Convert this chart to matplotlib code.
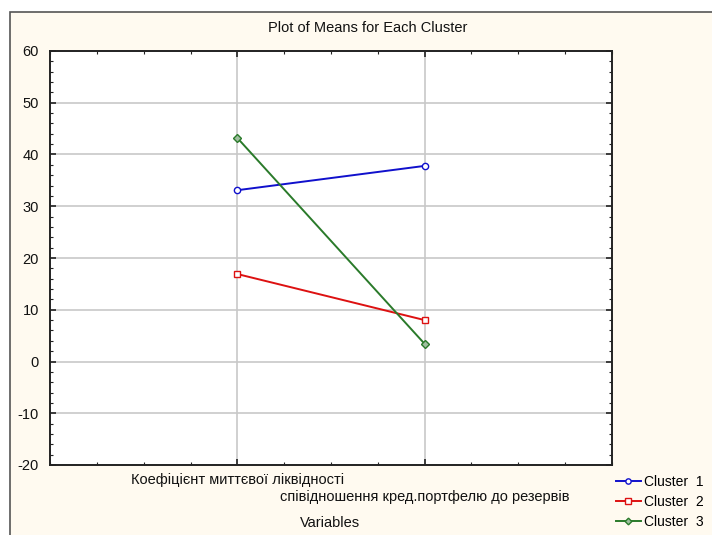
import matplotlib.pyplot as plt
from matplotlib.patches import Rectangle
from matplotlib.ticker import MultipleLocator, FixedLocator

plt.rcParams['font.family'] = ['Liberation Sans', 'DejaVu Sans']
plt.rcParams['axes.unicode_minus'] = False

# data
variables = ['Коефіцієнт миттєвої ліквідності',
             'співідношення кред.портфелю до резервів']
clusters = ['Cluster  1', 'Cluster  2', 'Cluster  3']
cluster1 = [33.1, 37.8]
cluster2 = [16.9, 8.0]
cluster3 = [43.2, 3.4]

colors = ['#1010cc', '#dd1111', '#2a7a2a']
markers = ['o', 's', 'D']
fs = 10.5

fig = plt.figure(figsize=(7.12, 5.35), dpi=100)
fig.patch.set_facecolor('white')

# cream panel with border like the original window
W, H = 712, 535
panel = Rectangle((10 / W, -0.1), 1.2, 1.1 - 12 / H, transform=fig.transFigure,
                  facecolor='#fffaf0', edgecolor='#555555', linewidth=1.2, zorder=-10)
fig.patches.append(panel)

ax = fig.add_axes([50 / W, 1 - 465 / H, 562 / W, 414 / H])
ax.set_facecolor('white')

x = [1, 2]
for vals, c, m, lab in zip([cluster1, cluster2, cluster3], colors, markers, clusters):
    ax.plot(x, vals, color=c, marker=m, markersize=4.5 if m != 'D' else 4,
            markerfacecolor='white' if m != 'D' else '#9fbf9f', markeredgecolor=c,
            markeredgewidth=1, linewidth=1.4, label=lab, zorder=3)

ax.set_xlim(0, 3)
ax.set_ylim(-20, 60)
ax.yaxis.set_major_locator(MultipleLocator(10))
ax.yaxis.set_minor_locator(MultipleLocator(2))
ax.xaxis.set_major_locator(FixedLocator([1, 2]))
ax.xaxis.set_minor_locator(MultipleLocator(0.25))
ax.set_xticklabels([])
ax.grid(True, which='major', color='#c8c8c8', linewidth=1.2, zorder=0)
ax.set_axisbelow(True)

ax.tick_params(which='both', direction='in', top=True, right=True, color='#222222')
ax.tick_params(which='major', length=4, width=1.2, labelsize=fs, pad=8, labelcolor='#111111')
ax.tick_params(which='minor', length=2.5, width=0.8)
for s in ax.spines.values():
    s.set_linewidth(1.4)
    s.set_color('#222222')

# staggered category labels
ax.text(1, -22.9, variables[0], ha='center', va='center', fontsize=fs, color='#111111')
ax.text(2, -26.2, variables[1], ha='center', va='center', fontsize=fs, color='#111111')
fig.text(330 / W, 1 - 523 / H, 'Variables', ha='center', va='center', fontsize=fs, color='#111111')
fig.text(368 / W, 1 - 28 / H, 'Plot of Means for Each Cluster', ha='center', va='center',
         fontsize=fs, color='#111111')

handles, labels = ax.get_legend_handles_labels()
fig.legend(handles, labels, loc='upper left', bbox_to_anchor=(606 / W, 1 - 465 / H),
           frameon=False, fontsize=10, handlelength=1.8, handletextpad=0.25,
           labelspacing=0.45, borderpad=0.2, markerscale=0.85)

fig.savefig('out.png', dpi=100)
